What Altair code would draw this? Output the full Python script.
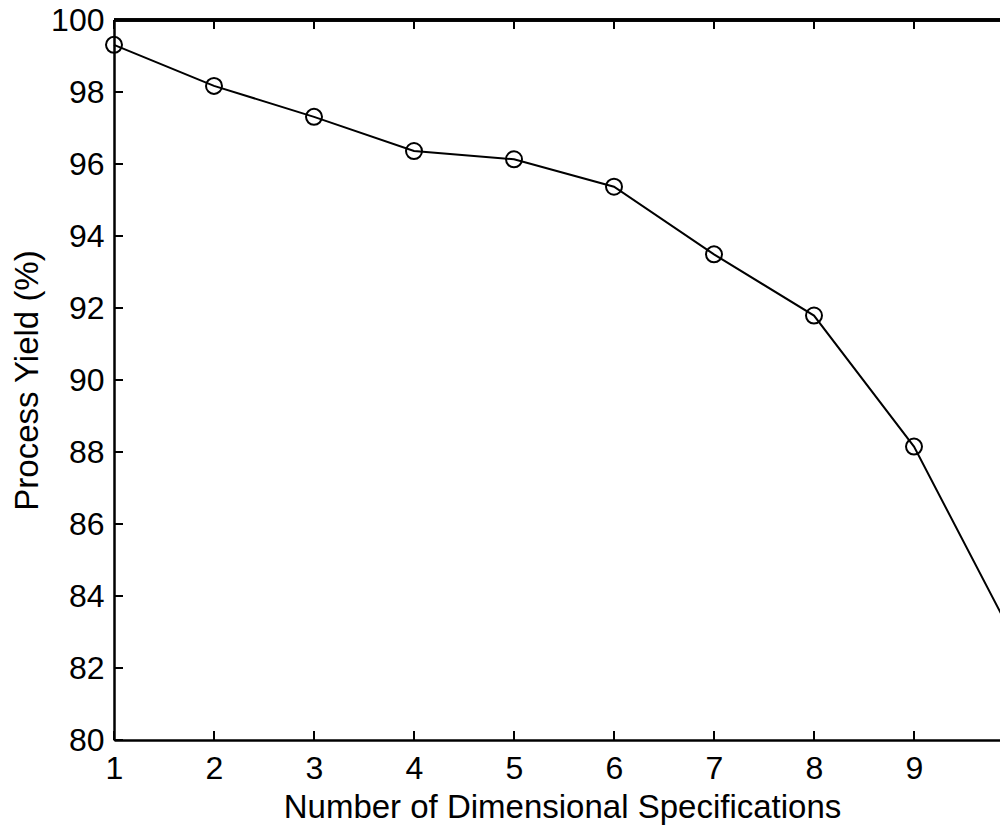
import altair as alt
import pandas as pd

# ---- data ----
specs = [1, 2, 3, 4, 5, 6, 7, 8, 9, 10]
yield_pct = [99.31, 98.17, 97.31, 96.36, 96.13, 95.37, 93.49, 91.79, 88.15, 82.82]
x_tick_values = [1, 2, 3, 4, 5, 6, 7, 8, 9, 10]
y_tick_values = [80, 82, 84, 86, 88, 90, 92, 94, 96, 98, 100]

W, H = 886, 720
FONT = "Liberation Sans"
TICK = 9

df = pd.DataFrame({"n": specs, "y": yield_pct})
xt = pd.DataFrame({"n": x_tick_values})
yt = pd.DataFrame({"y": y_tick_values})

xs = alt.Scale(domain=[1, 1 + W / 100], nice=False, zero=False)
ys = alt.Scale(domain=[80, 100], nice=False, zero=False)

x_axis = alt.Axis(
    values=x_tick_values[:-1], title="Number of Dimensional Specifications",
    ticks=False, tickSize=0, grid=False,
    domainColor="black", domainWidth=2.5,
    labelFont=FONT, labelFontSize=32, labelColor="black",
    labelPadding=38, labelBaseline="alphabetic",
    labelFlush=False, labelOverlap=False, labelBound=False,
    titleFont=FONT, titleFontSize=33, titleFontWeight="normal", titleColor="black",
    titleBaseline="alphabetic", titleY=77, titleX=448,
)
y_axis = alt.Axis(
    values=y_tick_values, title="Process Yield (%)",
    ticks=False, tickSize=0, grid=False,
    domainColor="black", domainWidth=2.5,
    labelFont=FONT, labelFontSize=32, labelColor="black",
    labelPadding=10, labelBaseline="middle",
    labelFlush=False, labelOverlap=False, labelBound=False,
    titleFont=FONT, titleFontSize=33, titleFontWeight="normal", titleColor="black",
    titleBaseline="alphabetic", titleX=-77, titleY=H / 2, titleAngle=270,
)

X = alt.X("n:Q", scale=xs, axis=x_axis)
Y = alt.Y("y:Q", scale=ys, axis=y_axis)

tick_style = dict(color="black", strokeWidth=2)

left_ticks = alt.Chart(yt).mark_rule(**tick_style).encode(
    y=Y, x=alt.value(0), x2=alt.value(TICK))
right_ticks = alt.Chart(yt).mark_rule(**tick_style).encode(
    y=Y, x=alt.value(900 - TICK), x2=alt.value(900))
bottom_ticks = alt.Chart(xt).mark_rule(**tick_style).encode(
    x=X, y=alt.value(H), y2=alt.value(H - TICK))
top_ticks = alt.Chart(xt).mark_rule(**tick_style).encode(
    x=X, y=alt.value(0), y2=alt.value(TICK))
top_border = alt.Chart(yt).mark_rule(color="black", strokeWidth=2.5).encode(
    x=alt.value(0), x2=alt.value(W), y=alt.value(0))

base = alt.Chart(df).encode(x=X, y=Y)
line = base.mark_line(color="black", strokeWidth=2)
pts = base.mark_point(shape="circle", filled=False, size=256, color="black",
                      strokeWidth=2, opacity=1)

chart = alt.layer(
    left_ticks, right_ticks, bottom_ticks, top_ticks, top_border, line, pts
).properties(
    width=W, height=H,
    padding={"left": 106, "top": 12, "right": 0, "bottom": 96},
    autosize=alt.AutoSizeParams(type="none"),
    background="white",
).configure_view(stroke="transparent")

chart.save("out.html", embed_options={"renderer": "svg", "actions": False})
